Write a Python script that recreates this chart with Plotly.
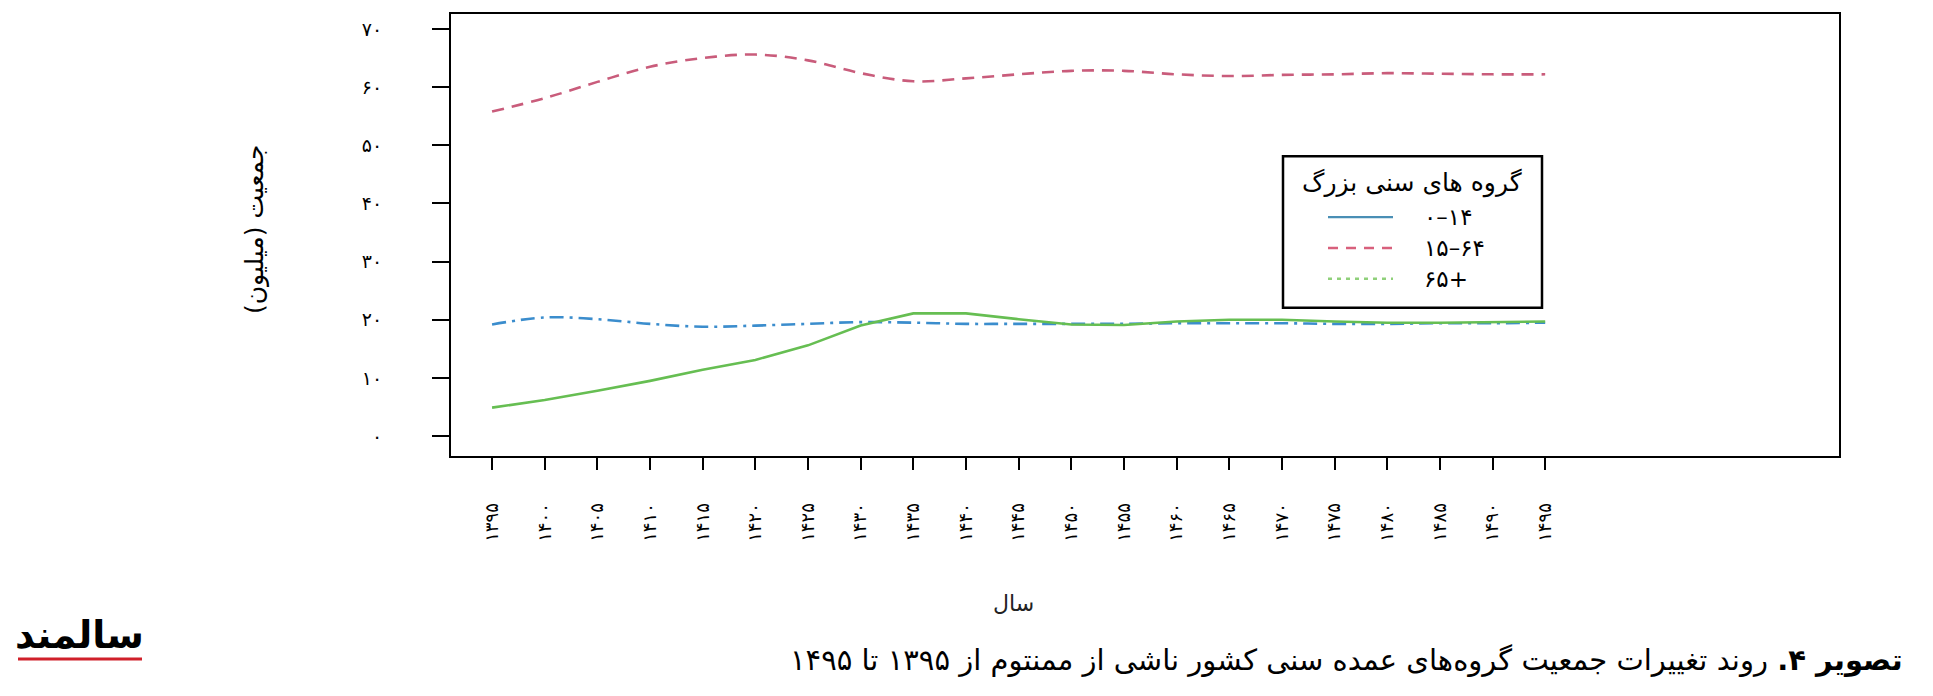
import plotly.graph_objects as go

# ---------------- data ----------------
years = [1395, 1400, 1405, 1410, 1415, 1420, 1425, 1430, 1435, 1440, 1445,
         1450, 1455, 1460, 1465, 1470, 1475, 1480, 1485, 1490, 1495]

pop_0_14 = [19.2, 20.4, 20.1, 19.3, 18.8, 19.0, 19.3, 19.6, 19.5, 19.3, 19.3,
            19.3, 19.3, 19.4, 19.4, 19.4, 19.3, 19.3, 19.4, 19.4, 19.5]
pop_15_64 = [55.8, 58.1, 60.9, 63.5, 65.0, 65.6, 64.6, 62.4, 61.0, 61.5, 62.2,
             62.8, 62.8, 62.2, 61.9, 62.1, 62.2, 62.4, 62.3, 62.2, 62.2]
pop_65p = [4.9, 6.2, 7.8, 9.5, 11.4, 13.1, 15.6, 19.0, 21.1, 21.1, 20.1,
           19.2, 19.1, 19.7, 20.0, 20.0, 19.7, 19.5, 19.5, 19.6, 19.7]

x_tick_labels = ["۱۳۹۵", "۱۴۰۰", "۱۴۰۵", "۱۴۱۰", "۱۴۱۵", "۱۴۲۰", "۱۴۲۵",
                 "۱۴۳۰", "۱۴۳۵", "۱۴۴۰", "۱۴۴۵", "۱۴۵۰", "۱۴۵۵", "۱۴۶۰",
                 "۱۴۶۵", "۱۴۷۰", "۱۴۷۵", "۱۴۸۰", "۱۴۸۵", "۱۴۹۰", "۱۴۹۵"]
y_ticks = [0, 10, 20, 30, 40, 50, 60, 70]
y_tick_labels = ["۰", "۱۰", "۲۰", "۳۰", "۴۰", "۵۰", "۶۰", "۷۰"]

legend_title = "گروه های سنی بزرگ"
legend_labels = ["۰–۱۴", "۱۵–۶۴", "۶۵+"]
x_title = "سال"
y_title = "جمعیت (میلیون)"
caption_bold = "تصویر ۴."
caption_rest = " روند تغییرات جمعیت گروه\u200cهای عمده سنی کشور ناشی از ممنتوم از ۱۳۹۵ تا ۱۴۹۵"
logo_text = "سالمند"

# ---------------- styles ----------------
FONT = "DejaVu Sans"
c_red = "#c95c7b"
c_blue = "#3b8dcd"
c_green = "#66be52"
leg_colors = ["#4a8fb5", "#d8607c", "#8fd07a"]
leg_dash = ["solid", "10px,8px", "4px,5px"]

OFF = 8                      # page body margin of the html output
W, H = 1933 - 2 * OFF, 696 - 2 * OFF
PL, PT, PW, PH = 451, 12, 1388, 444   # plot area in page pixels
L, T = PL - OFF, PT - OFF
R, B = W - L - PW, H - T - PH


def px(xp):
    return (xp - PL) / PW


def py(yp):
    return (PT + PH - yp) / PH


fig = go.Figure()
fig.add_trace(go.Scatter(x=years, y=pop_15_64, mode="lines", name=legend_labels[1],
                         line=dict(color=c_red, width=2.6, dash="12px,8px", shape="spline"),
                         showlegend=False))
fig.add_trace(go.Scatter(x=years, y=pop_0_14, mode="lines", name=legend_labels[0],
                         line=dict(color=c_blue, width=2.6, dash="14px,6px,3px,6px", shape="spline"),
                         showlegend=False))
fig.add_trace(go.Scatter(x=years, y=pop_65p, mode="lines", name=legend_labels[2],
                         line=dict(color=c_green, width=2.6),
                         showlegend=False))

shapes = []
annotations = []

# legend box (manual, to mimic the original)
lx0, lx1, ly0, ly1 = 1283, 1542, 155, 307
shapes.append(dict(type="rect", xref="paper", yref="paper",
                   x0=px(lx0), x1=px(lx1), y0=py(ly1), y1=py(ly0),
                   line=dict(color="black", width=2.5), fillcolor="white"))
annotations.append(dict(text=legend_title, xref="paper", yref="paper",
                        x=px(1412), y=py(182), showarrow=False,
                        font=dict(family=FONT, size=25, color="black"),
                        xanchor="center", yanchor="middle"))
rows = [216, 247, 278]
for i, lab in enumerate(legend_labels):
    shapes.append(dict(type="line", xref="paper", yref="paper",
                       x0=px(1328), x1=px(1393), y0=py(rows[i]), y1=py(rows[i]),
                       line=dict(color=leg_colors[i], width=2.4, dash=leg_dash[i])))
    annotations.append(dict(text=lab, xref="paper", yref="paper",
                            x=px(1422), y=py(rows[i]), showarrow=False,
                            font=dict(family=FONT, size=23, color="black"),
                            xanchor="left", yanchor="middle"))

# axis titles
annotations.append(dict(text=x_title, xref="x", yref="paper", x=1444.5, y=py(604),
                        showarrow=False, font=dict(family=FONT, size=22, color="#222"),
                        xanchor="center", yanchor="middle"))
annotations.append(dict(text=y_title, xref="paper", yref="paper", x=px(254), y=py(228),
                        textangle=-90, showarrow=False,
                        font=dict(family=FONT, size=25, color="black"),
                        xanchor="center", yanchor="middle"))

# caption
annotations.append(dict(text="<b>" + caption_bold + "</b>" + caption_rest,
                        xref="paper", yref="paper", x=px(1905), y=py(661),
                        showarrow=False, font=dict(family=FONT, size=29, color="black"),
                        xanchor="right", yanchor="middle"))

# logo
annotations.append(dict(text="<b>" + logo_text + "</b>", xref="paper", yref="paper",
                        x=px(80), y=py(636),
                        showarrow=False, font=dict(family=FONT, size=38, color="black"),
                        xanchor="center", yanchor="middle"))
shapes.append(dict(type="line", xref="paper", yref="paper",
                   x0=px(18), x1=px(142), y0=py(660), y1=py(660),
                   line=dict(color="#d0202a", width=3)))

fig.update_layout(
    width=W, height=H,
    margin=dict(l=L, r=R, t=T, b=B),
    paper_bgcolor="white", plot_bgcolor="white",
    shapes=shapes, annotations=annotations,
    showlegend=False,
    font=dict(family=FONT, color="black"),
)
fig.update_xaxes(
    range=[1391.1, 1522.9], tickmode="array", tickvals=years, ticktext=x_tick_labels,
    tickangle=-90, ticks="outside", ticklen=12, tickwidth=2, tickcolor="black",
    ticklabelstandoff=26, tickfont=dict(family=FONT, size=18, color="black"),
    showline=True, linecolor="black", linewidth=2, mirror=True,
    showgrid=False, zeroline=False,
)
fig.update_yaxes(
    range=[-3.42, 72.57], tickmode="array", tickvals=y_ticks, ticktext=y_tick_labels,
    ticks="outside", ticklen=17, tickwidth=2, tickcolor="black",
    ticklabelstandoff=46, tickfont=dict(family=FONT, size=19, color="black"),
    showline=True, linecolor="black", linewidth=2, mirror=True,
    showgrid=False, zeroline=False,
)

fig.write_html("out.html")
